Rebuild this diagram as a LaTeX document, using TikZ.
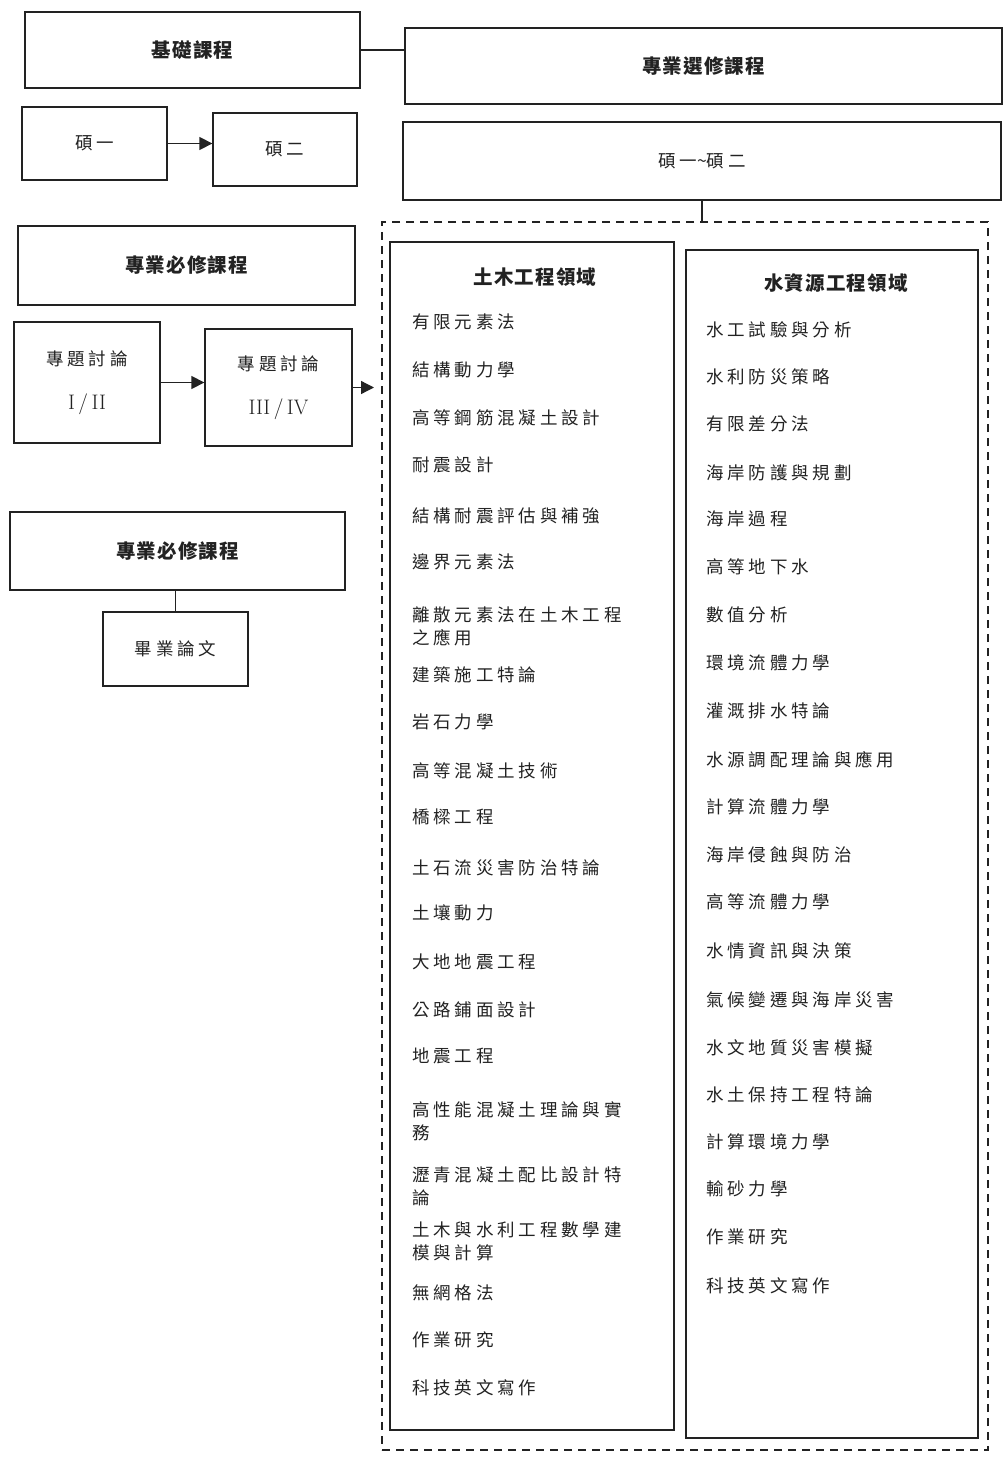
\documentclass[tikz,border=0pt]{standalone}
\usepackage{fontspec}
\newfontfamily\cjk{Noto Sans CJK TC}[LetterSpace=22]
\newfontfamily\cjkhead{Noto Sans CJK TC}[LetterSpace=6]
\usetikzlibrary{arrows.meta}
\definecolor{ink}{HTML}{222222}
\begin{document}
\begin{tikzpicture}[x=1pt,y=-1pt,
  box/.style={draw=ink, line width=1.3pt, inner sep=0pt, fill=white},
  head/.style={font=\fontsize{19.5}{22}\selectfont\cjkhead\bfseries, text=ink},
  plain/.style={font=\fontsize{17.5}{22}\selectfont\cjk, text=ink},
  item/.style={font=\fontsize{17.5}{23}\selectfont\cjk, text=ink, anchor=west, align=left, inner sep=0pt},
  link/.style={draw=ink, line width=1.3pt},
  arr/.style={draw=ink, line width=1.3pt, -{Triangle[length=13pt,width=13pt]}},
  dashbox/.style={draw=ink, line width=1.3pt, dash pattern=on 8pt off 6pt, inner sep=0pt}]
\useasboundingbox[fill=white] (0,0) rectangle (1004,1461);

% left column
\node[box, minimum width=335pt, minimum height=76pt, head] (kc) at (192.5,50) {基礎課程};
\node[box, minimum width=145pt, minimum height=73pt, plain] (s1) at (94.5,143.5) {碩一};
\node[box, minimum width=144pt, minimum height=73pt, plain] (s2) at (285,149.5) {碩二};
\node[box, minimum width=337pt, minimum height=79pt, head] (bx1) at (186.5,265.5) {專業必修課程};
\node[box, minimum width=146pt, minimum height=121pt, plain, align=center] (t1) at (87,382.5) {專題討論\\[22pt]{\normalfont\fontsize{21}{22}\selectfont I\,/\,II}};
\node[box, minimum width=147pt, minimum height=117pt, plain, align=center] (t2) at (278.5,387.5) {專題討論\\[22pt]{\normalfont\fontsize{21}{22}\selectfont III\,/\,IV}};
\node[box, minimum width=335pt, minimum height=78pt, head] (bx2) at (177.5,551) {專業必修課程};
\node[box, minimum width=145pt, minimum height=74pt, plain] (by) at (175.5,649) {畢業論文};

% right column
\node[box, minimum width=597pt, minimum height=76pt, head] (zx) at (703.5,66) {專業選修課程};
\node[box, minimum width=598pt, minimum height=78pt, plain] (s12) at (702,161) {碩一{\fontspec{Noto Sans CJK TC}\char"007E}碩二};
\node[dashbox, minimum width=606pt, minimum height=1228pt] (outer) at (685,836) {};
\node[box, minimum width=284pt, minimum height=1188pt] (lb) at (532,836) {};
\node[box, minimum width=292pt, minimum height=1188pt] (rb) at (832,844) {};

\node[head] (lh) at (535,277) {土木工程領域};
\node[head] (rh) at (836,283) {水資源工程領域};

\foreach \y/\t [count=\i] in {
  322/有限元素法, 370/結構動力學, 418/高等鋼筋混凝土設計, 465/耐震設計,
  516/結構耐震評估與補強, 562/邊界元素法, 626/{離散元素法在土木工程\\之應用},
  675/建築施工特論, 722/岩石力學, 771/高等混凝土技術, 817/橋樑工程,
  868/土石流災害防治特論, 913/土壤動力, 962/大地地震工程, 1010/公路鋪面設計,
  1056/地震工程, 1121/{高性能混凝土理論與實\\務}, 1186/{瀝青混凝土配比設計特\\論},
  1241/{土木與水利工程數學建\\模與計算}, 1293/無網格法, 1340/作業研究, 1388/科技英文寫作}
  \node[item] (L\i) at (412,\y) {\t};

\foreach \y/\t [count=\i] in {
  330/水工試驗與分析, 377/水利防災策略, 424/有限差分法, 473/海岸防護與規劃,
  519/海岸過程, 567/高等地下水, 615/數值分析, 663/環境流體力學, 711/灌溉排水特論,
  760/水源調配理論與應用, 807/計算流體力學, 855/海岸侵蝕與防治, 902/高等流體力學,
  951/水情資訊與決策, 1000/氣候變遷與海岸災害, 1048/水文地質災害模擬,
  1095/水土保持工程特論, 1142/計算環境力學, 1189/輸砂力學, 1237/作業研究, 1286/科技英文寫作}
  \node[item] (R\i) at (706,\y) {\t};

% connectors
\draw[link] (kc.east) -- (kc.east -| zx.west);
\draw[arr] (s1.east) -- (s1.east -| s2.west);
\draw[arr] (t1.east) -- (t1.east -| t2.west);
\coordinate (ae) at (374,387.5);
\draw[arr] (t2.east) -- (ae);
\draw[link] (s12.south) -- (s12.south |- outer.north);
\draw[link] (by.north |- bx2.south) -- (by.north);
\end{tikzpicture}
\end{document}
